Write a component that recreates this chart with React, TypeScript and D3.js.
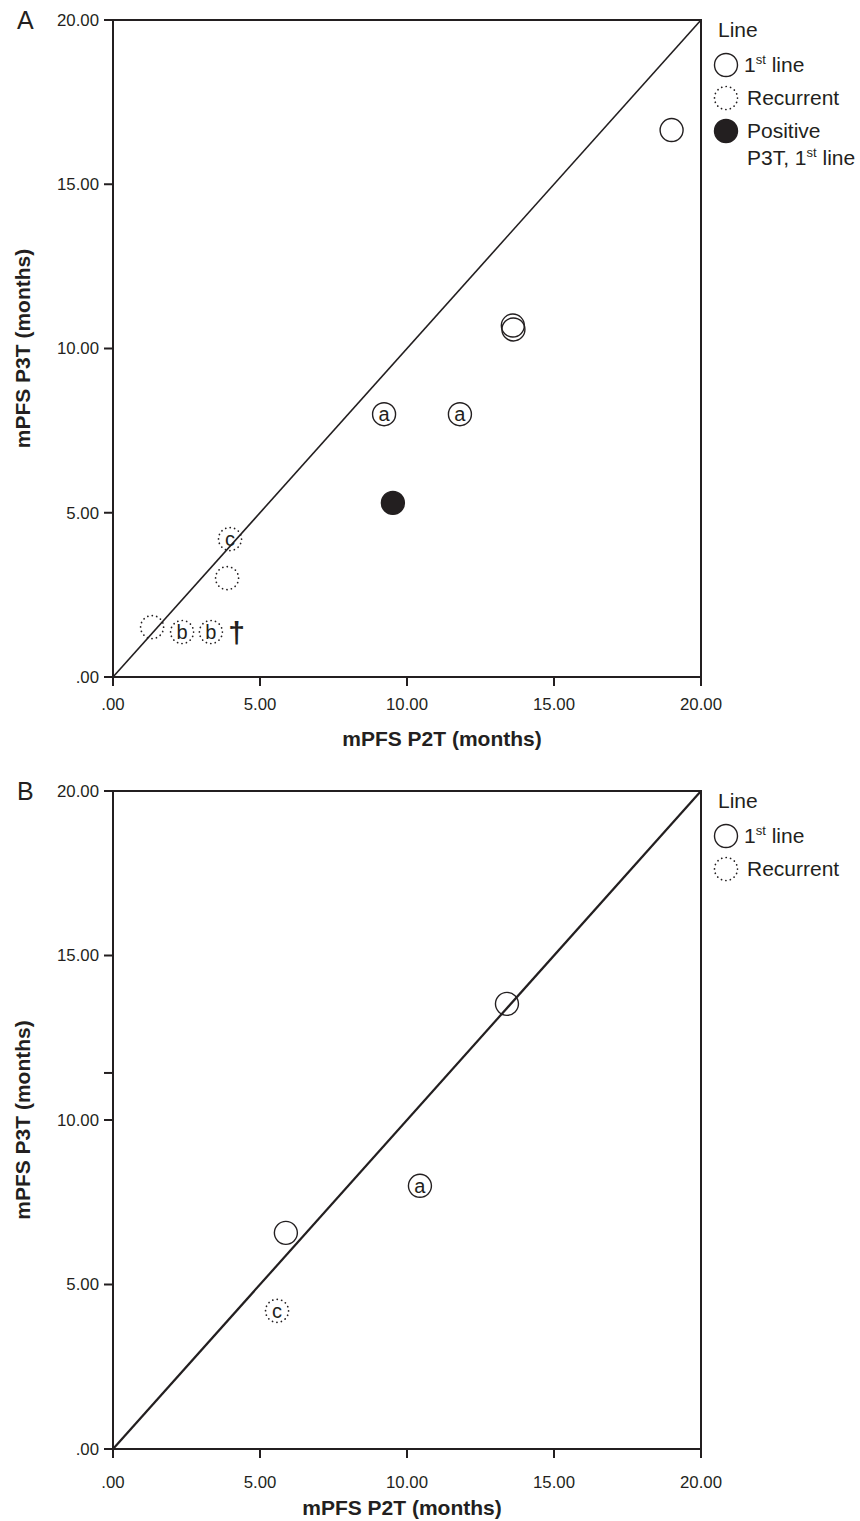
import * as d3 from 'd3';

// ---- data -------------------------------------------------------------
// panel A: mPFS P2T (x) vs mPFS P3T (y), months
const A_X = [19.0, 13.6, 13.62, 9.22, 11.8, 9.52, 3.98, 3.88, 1.33, 2.35, 3.33];
const A_Y = [16.65, 10.7, 10.58, 8.0, 8.0, 5.3, 4.2, 3.01, 1.52, 1.37, 1.37];
const A_LINE = ['first', 'first', 'first', 'first', 'first', 'positive', 'recurrent', 'recurrent', 'recurrent', 'recurrent', 'recurrent'];
const A_MARK = ['', '', '', 'a', 'a', '', 'c', '', '', 'b', 'b'];
const A_DAGGER = { x: 4.2, y: 1.35 };

// panel B
const B_X = [13.4, 10.44, 5.88, 5.58];
const B_Y = [13.53, 8.0, 6.57, 4.2];
const B_LINE = ['first', 'first', 'first', 'recurrent'];
const B_MARK = ['', 'a', '', 'c'];

const TICKS = [0, 5, 10, 15, 20];
const B_EXTRA_Y_TICKS = [11.43];
const DOMAIN: [number, number] = [0, 20];

const X_TITLE = 'mPFS P2T (months)';
const Y_TITLE = 'mPFS P3T (months)';

const FONT = 'Liberation Sans, Arial, Helvetica, sans-serif';
const INK = '#231f20';
const R = 11.5;

const fmt = (d: number) => (d === 0 ? '.00' : d.toFixed(2));

interface PanelProps {
  letter: string;
  top: number;
  bottom: number;
  xs: number[];
  ys: number[];
  lines: string[];
  marks: string[];
  extraYTicks?: number[];
  xTitleCenter: number;
  labelGap: number;
  titleGap: number;
  diagWidth: number;
  legend: string[];
  dagger?: { x: number; y: number };
}

function Marker({ cx, cy, line, mark }: { cx: number; cy: number; line: string; mark: string }) {
  const dotted = line === 'recurrent';
  return (
    <g>
      <circle
        cx={cx}
        cy={cy}
        r={R}
        fill={line === 'positive' ? INK : 'none'}
        stroke={INK}
        strokeWidth={dotted ? 1.7 : 1.4}
        strokeDasharray={dotted ? '0.1 4.4' : undefined}
        strokeLinecap={dotted ? 'round' : undefined}
      />
      {mark && (
        <text
          x={cx}
          y={cy}
          dy="0.34em"
          textAnchor="middle"
          fontFamily={FONT}
          fontSize={20}
          fill={INK}
        >
          {mark}
        </text>
      )}
    </g>
  );
}

function Legend({ items, x, y }: { items: string[]; x: number; y: number }) {
  const rowGap = 33;
  return (
    <g fontFamily={FONT} fontSize={21} fill={INK}>
      <text x={x - 8} y={y} dy="0.35em">Line</text>
      {items.map((item, i) => {
        const cy = y + 35 + i * rowGap;
        return (
          <g key={item}>
            <Marker cx={x} cy={cy} line={item} mark="" />
            {item === 'first' && (
              <text x={x + 18} y={cy} dy="0.35em">
                1<tspan dy={-8} fontSize={13}>st</tspan>
                <tspan dy={8}> line</tspan>
              </text>
            )}
            {item === 'recurrent' && (
              <text x={x + 21} y={cy} dy="0.35em">Recurrent</text>
            )}
            {item === 'positive' && (
              <text x={x + 21} y={cy} dy="0.35em">
                Positive
                <tspan x={x + 21} dy={27}>P3T, 1</tspan>
                <tspan dy={-8} fontSize={13}>st</tspan>
                <tspan dy={8}> line</tspan>
              </text>
            )}
          </g>
        );
      })}
    </g>
  );
}

function Panel(p: PanelProps) {
  const x = d3.scaleLinear().domain(DOMAIN).range([113, 701]);
  const y = d3.scaleLinear().domain(DOMAIN).range([p.bottom, p.top]);
  const diag = d3.line<number>().x((d) => x(d)).y((d) => y(d))(DOMAIN) ?? '';
  const yTicks = [...TICKS, ...(p.extraYTicks ?? [])];

  return (
    <g>
      <text x={17} y={y(20)} dy="0.35em" fontFamily={FONT} fontSize={25} fill={INK}>
        {p.letter}
      </text>

      {/* frame */}
      <rect
        x={x(0)}
        y={y(20)}
        width={x(20) - x(0)}
        height={y(0) - y(20)}
        fill="none"
        stroke={INK}
        strokeWidth={2}
      />

      {/* y axis ticks */}
      {yTicks.map((t) => (
        <g key={`y${t}`} transform={`translate(${x(0)},${y(t)})`}>
          <line x1={-9} x2={0} stroke={INK} strokeWidth={2} />
          {TICKS.includes(t) && (
            <text
              x={-14}
              dy="0.35em"
              textAnchor="end"
              fontFamily={FONT}
              fontSize={16.8}
              fill={INK}
            >
              {fmt(t)}
            </text>
          )}
        </g>
      ))}

      {/* x axis ticks */}
      {TICKS.map((t) => (
        <g key={`x${t}`} transform={`translate(${x(t)},${y(0)})`}>
          <line y1={0} y2={9} stroke={INK} strokeWidth={2} />
          <text
            y={p.labelGap}
            dy="0.35em"
            textAnchor="middle"
            fontFamily={FONT}
            fontSize={16.8}
            fill={INK}
          >
            {fmt(t)}
          </text>
        </g>
      ))}

      <text
        x={p.xTitleCenter}
        y={y(0) + p.titleGap}
        dy="0.35em"
        textAnchor="middle"
        fontFamily={FONT}
        fontWeight="bold"
        fontSize={21}
        fill={INK}
      >
        {X_TITLE}
      </text>
      <text
        transform={`translate(23,${(y(0) + y(20)) / 2}) rotate(-90)`}
        dy="0.35em"
        textAnchor="middle"
        fontFamily={FONT}
        fontWeight="bold"
        fontSize={21}
        fill={INK}
      >
        {Y_TITLE}
      </text>

      {/* identity line */}
      <path d={diag} fill="none" stroke={INK} strokeWidth={p.diagWidth} />

      {p.xs.map((v, i) => (
        <Marker key={i} cx={x(v)} cy={y(p.ys[i])} line={p.lines[i]} mark={p.marks[i]} />
      ))}

      {p.dagger && (
        <text
          x={x(p.dagger.x)}
          y={y(p.dagger.y)}
          dy="0.35em"
          textAnchor="middle"
          fontFamily={FONT}
          fontWeight="bold"
          fontSize={30}
          fill={INK}
        >
          †
        </text>
      )}

      <Legend items={p.legend} x={726} y={y(20) + 10} />
    </g>
  );
}

export default function App() {
  return (
    <svg
      width={860}
      height={1521}
      viewBox="0 0 860 1521"
      style={{ position: 'absolute', left: 0, top: 0, background: '#fff' }}
    >
      <Panel
        letter="A"
        top={20}
        bottom={677}
        xs={A_X}
        ys={A_Y}
        lines={A_LINE}
        marks={A_MARK}
        xTitleCenter={442}
        labelGap={27}
        titleGap={62}
        diagWidth={1.6}
        legend={['first', 'recurrent', 'positive']}
        dagger={A_DAGGER}
      />
      <Panel
        letter="B"
        top={791}
        bottom={1449}
        xs={B_X}
        ys={B_Y}
        lines={B_LINE}
        marks={B_MARK}
        extraYTicks={B_EXTRA_Y_TICKS}
        xTitleCenter={402}
        labelGap={33}
        titleGap={59}
        diagWidth={2.2}
        legend={['first', 'recurrent']}
      />
    </svg>
  );
}
